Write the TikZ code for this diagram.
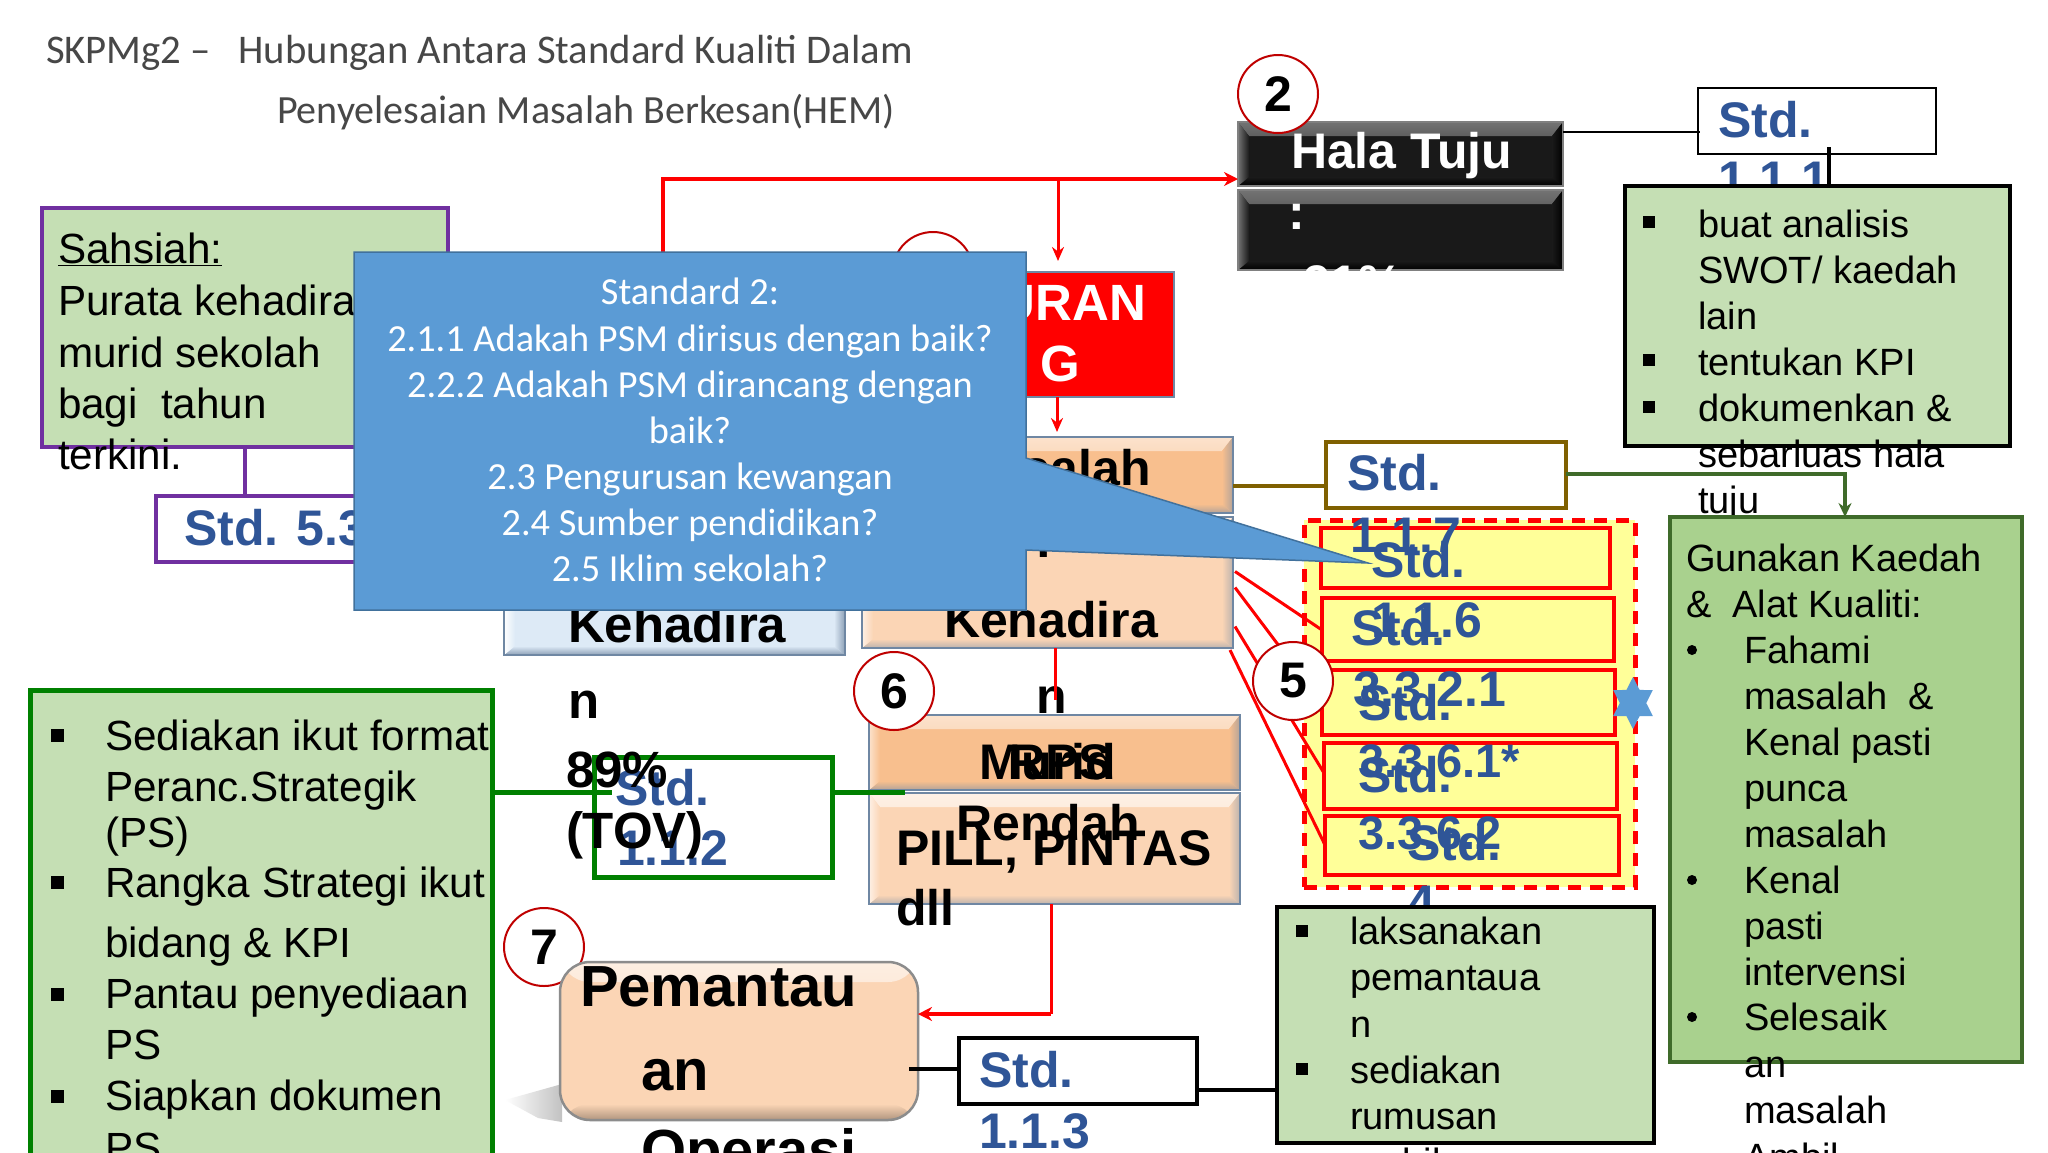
\documentclass[tikz,border=0pt]{standalone}
\usepackage{fontspec}
\setmainfont{Liberation Sans}
\newfontfamily\carlito{Carlito}
\usetikzlibrary{arrows.meta,calc,shapes.geometric}
\definecolor{palegreen}{HTML}{C5DFB4}
\definecolor{midgreen}{HTML}{A9D18E}
\definecolor{stdblue}{HTML}{2F5597}
\definecolor{darkgrn}{HTML}{008000}
\definecolor{olivegrn}{HTML}{3F6B2A}
\definecolor{brownline}{HTML}{7F6000}
\definecolor{purpleline}{HTML}{7030A0}
\definecolor{calloutblue}{HTML}{5B9BD5}
\definecolor{calloutedge}{HTML}{41719C}
\definecolor{yellowbg}{HTML}{FFFF99}
\definecolor{peach}{HTML}{FBD5B5}
\definecolor{orangebox}{HTML}{F8BF8E}
\definecolor{steel}{HTML}{6F87A3}
\definecolor{redline}{HTML}{FF0000}
\definecolor{palebluebox}{HTML}{DDEAF6}
\newcommand{\pbox}[6][]{%
  \pgfmathsetmacro\pw{#5-(#3)}\pgfmathsetmacro\ph{#6-(#4)}%
  \pgfmathsetmacro\pcx{(#3+#5)/2}\pgfmathsetmacro\pcy{(#4+#6)/2}%
  \node[rectangle,inner sep=0pt,outer sep=0pt,minimum width=\pw pt,minimum height=\ph pt,#1] (#2) at (\pcx,\pcy) {};}
\newcommand{\tx}[5][]{\node[anchor=base west,inner sep=0pt,outer sep=0pt,#1] (#2) at (#3,#4) {#5};}
\newcommand{\fs}[1]{\fontsize{#1}{#1}\selectfont}
\tikzset{
  x=1pt,y=-1pt,
  bevel/.style n args={4}{draw=#4,line width=2.5pt,fill=#1,path picture={
    \def\bb{path picture bounding box}
    \shade[top color=#2,bottom color=#1] (\bb.north west) -- (\bb.north east) -- ++(-11,14) -- ($(\bb.north west)+(11,14)$) -- cycle;
    \shade[top color=#1,bottom color=#3] ($(\bb.south west)+(11,-9)$) -- ($(\bb.south east)+(-11,-9)$) -- (\bb.south east) -- (\bb.south west) -- cycle;
    \shade[left color=#2,right color=#1] (\bb.north west) -- ++(11,14) -- ($(\bb.south west)+(11,-9)$) -- (\bb.south west) -- cycle;
    \shade[left color=#1,right color=#3] ($(\bb.north east)+(-11,14)$) -- (\bb.north east) -- (\bb.south east) -- ($(\bb.south east)+(-11,-9)$) -- cycle;
  }},
  orangeb/.style={bevel={orangebox}{orangebox!45!white}{orangebox!50!steel}{steel}},
  peachb/.style={bevel={peach}{peach!35!white}{peach!55!steel}{steel}},
  paleb/.style={bevel={palebluebox}{white}{steel!80!white}{steel}},
  blackb/.style={bevel={black!90}{black!55}{black!100}{black!50}},
  numcirc/.style={draw=red!75!black,line width=2pt,fill=white,ellipse,inner sep=0pt,outer sep=0pt,minimum width=80pt,minimum height=78pt,font=\bfseries\fs{50}},
  greenbox/.style={fill=palegreen,draw=black,line width=4pt},
  stdt/.style={text=stdblue,font=\bfseries\fs{50}},
  stdn/.style={text=stdblue,font=\bfseries\fs{47}},
  blk/.style={font=\bfseries\fs{50}},
  b38/.style={font=\fs{38}},
  b42/.style={font=\fs{42.2}},
  ct/.style={anchor=base,inner sep=0pt,text=white,font=\carlito\fs{38.3}},
  title/.style={text=black!72,font=\carlito\fs{40}},
  sqb/.style={fill=black,inner sep=0pt,outer sep=0pt,minimum width=12pt,minimum height=12pt},
  rdb/.style={fill=black,circle,inner sep=0pt,outer sep=0pt,minimum size=10pt},
  redthin/.style={draw=redline,line width=3pt},
  redarrow/.style={redthin,-{Stealth[length=14pt,width=12pt]}},
}
\begin{document}
\begin{tikzpicture}
\clip[use as bounding box] (0,0) rectangle (2048,1152);
\fill[white] (0,0) rectangle (2048,1152);

% title
\tx[title,font=\carlito\fs{40.7}]{t1}{46}{63}{SKPMg2 –\ \ \ Hubungan Antara Standard Kualiti Dalam}
\tx[title]{t2}{277}{123}{Penyelesaian Masalah Berkesan(HEM)}

% red top line
\coordinate (topL) at (663,300);
\coordinate (topC) at (663,179);
\coordinate (topB) at (1058,179);
\coordinate (d1) at (1058,261);

% Hala Tuju
\pbox[blackb]{halaA}{1238}{122}{1563}{186}
\pbox[blackb]{halaB}{1238}{190}{1563}{270}
\draw[draw=redline,line width=4pt,-{Stealth[length=14pt,width=14pt]}] (topL) -- (topC) -- (halaA.west |- topC);
\draw[redarrow] (topB) -- (d1);
\node[numcirc] (c2) at (1278,94) {2};
\tx[text=white,font=\bfseries\fs{50}]{halat}{1291}{168}{Hala Tuju}
\tx[text=white,font=\bfseries\fs{50}]{halac}{1288}{229}{:}
\tx[text=white,font=\bfseries\fs{50}]{halap}{1303}{300}{91\%}

% Std 1.1.1
\pbox[draw=black,line width=2.5pt,fill=white]{s111}{1698}{88}{1936}{154}
\coordinate (j1) at (1700,132);
\draw[black,line width=2.5pt] (halaA.east |- j1) -- (j1);
\tx[stdt]{s111a}{1718}{137}{Std.}
\tx[stdt]{s111b}{1718}{196}{1.1.1}
\coordinate (j2) at (1829,147);
\pbox[greenbox]{g1}{1625}{186}{2010}{446}
\draw[black,line width=4pt] (j2) -- (g1.north -| j2);
\foreach \nm/\yy/\str in {a/237/buat analisis,b/283/{SWOT/ kaedah},c/329/lain,d/375/tentukan KPI,e/421/dokumenkan \&,f/467/sebarluas hala,g/513/tuju}{
  \tx[b38]{g1\nm}{1698}{\yy}{\str}
}
\node[sqb] (g1q1) at (1649,222) {};
\node[sqb] (g1q2) at (1649,360) {};
\node[sqb] (g1q3) at (1649,407) {};

% Gunakan box
\pbox[fill=midgreen,draw=olivegrn,line width=4pt]{g2}{1670}{517}{2022}{1062}
\foreach \nm/\xx/\yy/\str in {a/1686/571/Gunakan Kaedah,b/1686/617/{\&\ \ Alat Kualiti:},c/1744/663/Fahami,d/1744/709/{masalah\ \ \&},e/1744/755/Kenal pasti,f/1744/801/punca,g/1744/847/masalah,h/1744/893/Kenal,i/1744/939/pasti,j/1744/985/intervensi,k/1744/1030/Selesaik,l/1744/1077/an,m/1744/1123/masalah,n/1744/1170/Ambil}{
  \tx[b38]{g2\nm}{\xx}{\yy}{\str}
}
\node[rdb] (g2r1) at (1692,650) {};
\node[rdb] (g2r2) at (1692,880) {};
\node[rdb] (g2r3) at (1692,1017) {};
\node[rdb] (g2r4) at (1692,1158) {};

% yellow group
\pbox[fill=yellowbg,draw=redline,line width=5pt,dash pattern=on 13pt off 9pt]{ygroup}{1304}{520}{1635}{887}
\pbox[draw=redline,line width=4pt]{in1}{1321}{528}{1610}{588}
\pbox[draw=redline,line width=4pt]{in2}{1322}{598}{1614}{661}
\pbox[draw=redline,line width=4pt]{in3}{1322}{670}{1615}{735}
\pbox[draw=redline,line width=4pt]{in4}{1324}{743}{1617}{809}
\pbox[draw=redline,line width=4pt]{in5}{1325}{816}{1619}{875}

% Masalah box
\pbox[orangeb]{masA}{862}{437}{1233}{513}
\pbox[peachb]{masB}{862}{517}{1233}{648}
\tx[blk,anchor=base]{masat}{1052}{485}{Masalah}
\tx[blk]{masac}{1035}{557}{:}
\tx[blk]{masad}{944}{637}{Kehadira}
\tx[blk]{masae}{1036}{713}{n}

% left pale box
\pbox[paleb]{kehB}{504}{540}{845}{655}
\tx[blk,font=\bfseries\fs{51}]{kehc}{568}{642}{Kehadira}

% red box
\pbox[fill=redline,draw=steel,line width=2pt]{redb}{900}{272}{1174}{397}
\tx[text=white,font=\bfseries\fs{51},anchor=base east]{reda}{1146}{320}{URAN}
\tx[text=white,font=\bfseries\fs{51}]{redg}{1040}{381}{G}
\node[numcirc] (c3) at (933,271) {3};
\draw[redarrow] (redb.south -| 1057,0) -- (1057,432);

% connectors from masalah to std boxes
\draw[redthin] ($(masB.east)+(2,-11)$) -- (in2.west |- 0,630);
\draw[redthin] ($(masB.east)+(2,5)$) -- (in3.west |- 0,703);
\draw[redthin] ($(masB.east)+(2,44)$) -- (in4.west |- 0,773);
\draw[redthin] ($(masB.south east)+(-3,2)$) -- (in5.west |- 0,845);
\draw[redthin] (masB.south -| 1055,0) -- (1055,700);

% Std 1.1.7
\pbox[draw=brownline,line width=4pt,fill=white]{s117}{1326}{442}{1566}{508}
\coordinate (j3) at (0,486);
\draw[brownline,line width=3.5pt] (masA.east |- j3) -- (s117.west |- j3);
\tx[stdt]{s117a}{1347}{490}{Std.}
\tx[stdt]{s117b}{1350}{552}{1.1.7}
\coordinate (j4) at (1845,474);
\draw[olivegrn,line width=3.5pt,-{Stealth[length=14pt,width=13pt]}] (s117.east |- j4) -- (j4) -- (g2.north -| j4);

\node[star,star points=6,star point ratio=1.73,xscale=0.88,fill=calloutblue,inner sep=0pt,minimum size=52pt] (star6) at (1633,703) {};

% overlapping labels inside the group
\tx[stdt]{a1}{1371}{577}{Std.}
\tx[stdt]{a2}{1371}{637}{1.1.6}
\tx[stdt]{b1}{1351}{645}{Std.}
\tx[stdt]{b2}{1353}{706}{3.3.2.1}
\tx[stdt]{c1}{1358}{720}{Std.}
\tx[stdn]{c2l}{1358}{777}{3.3.6.1*}
\tx[stdt]{d1l}{1358}{792}{Std.}
\tx[stdn]{d2l}{1358}{849}{3.3.6.2}
\tx[stdt]{e1l}{1407}{860}{Std.}
\tx[stdt]{e2l}{1407}{920}{4}
\node[numcirc] (c5) at (1293,681) {5};

% MRPS box
\pbox[orangeb]{mrA}{869}{715}{1240}{790}
\pbox[peachb]{mrB}{869}{793}{1240}{904}

% Std 1.1.2
\pbox[draw=darkgrn,line width=5pt]{s112}{594}{757}{832}{877}
\coordinate (j5) at (0,792);
\tx[stdt]{s112a}{615}{805}{Std.}
\tx[stdt]{s112b}{617}{865}{1.1.2}

% left green
\pbox[fill=palegreen,draw=darkgrn,line width=5pt]{g3}{30}{690}{492}{1190}
\draw[darkgrn,line width=5pt] (g3.east |- j5) -- (612,792);
\draw[darkgrn,line width=5pt] (s112.east |- j5) -- (905,792);
\foreach \nm/\yy/\str in {a/750/Sediakan ikut format,b/801/Peranc.Strategik,c/847/(PS),d/897/Rangka Strategi ikut,e/957/bidang \& KPI,f/1008/Pantau penyediaan,g/1059/PS,h/1110/Siapkan dokumen,i/1162/PS}{
  \tx[b42]{g3\nm}{105}{\yy}{\str}
}
\node[sqb,minimum size=13pt] (g3q1) at (57,735) {};
\node[sqb,minimum size=13pt] (g3q2) at (57,882) {};
\node[sqb,minimum size=13pt] (g3q3) at (57,994) {};
\node[sqb,minimum size=13pt] (g3q4) at (57,1096) {};

\tx[blk,anchor=base]{m1}{1048}{779}{Murid}
\tx[blk]{m2}{1009}{779}{RPS}
\tx[blk,anchor=base]{m3}{1048}{840}{Rendah}
\tx[blk]{p1}{896}{865}{PILL, PINTAS}
\tx[blk]{p2}{896}{925}{dll}
\node[numcirc] (c6) at (894,691) {6};

\tx[blk,font=\bfseries\fs{51}]{kehn}{568}{718}{n}
\tx[blk,font=\bfseries\fs{51}]{keh8}{566}{787}{89\%}
\tx[blk,font=\bfseries\fs{51}]{keht}{566}{848}{(TOV)}

% Pemantauan
\node[numcirc] (c7) at (544,947) {7};
\shade[left color=white,right color=black!24] (505,1100) -- (562,1084) -- (562,1122) -- (538,1118) -- cycle;
\node[rectangle,rounded corners=30pt,inner sep=0pt,outer sep=0pt,minimum width=358pt,minimum height=158pt,fill=peach,draw=black!45,line width=2.5pt,
  path picture={\def\bb{path picture bounding box}
    \shade[top color=peach!40!white,bottom color=peach] (\bb.north west) rectangle ($(\bb.north east)+(0,20)$);
    \shade[top color=peach,bottom color=peach!70!black] ($(\bb.south west)+(0,-16)$) rectangle (\bb.south east);}] (pem) at (739,1041) {};
\tx[font=\bfseries\fs{58}]{pa}{580}{1006}{Pemantau}
\tx[font=\bfseries\fs{58}]{pb}{641}{1090}{an}
\tx[font=\bfseries\fs{58}]{pc}{641}{1170}{Operasi}
\draw[redthin] (mrB.south -| 1051,0) -- (1051,1014);
\draw[draw=redline,line width=4pt,-{Stealth[length=14pt,width=14pt]}] (1051,1014) -- (pem.east |- 0,1014);

% Std 1.1.3
\pbox[draw=black,line width=3.5pt,fill=white]{s113}{959}{1038}{1197}{1104}
\coordinate (j6) at (0,1069);
\draw[black,line width=3.5pt] (909,1069) -- (s113.west |- j6);
\tx[stdt]{s113a}{979}{1087}{Std.}
\tx[stdt]{s113b}{979}{1148}{1.1.3}

% laksanakan box
\pbox[fill=palegreen,draw=black,line width=4pt]{g4}{1277}{907}{1654}{1143}
\coordinate (j7) at (0,1090);
\draw[black,line width=3.5pt] (s113.east |- j7) -- (g4.west |- j7);
\foreach \nm/\yy/\str in {a/944/laksanakan,b/990/pemantaua,c/1037/n,d/1083/sediakan,e/1129/rumusan,f/1175/ambil}{
  \tx[b38]{g4\nm}{1350}{\yy}{\str}
}
\node[sqb] (g4q1) at (1302,931) {};
\node[sqb] (g4q2) at (1302,1069) {};

% Sahsiah
\pbox[fill=palegreen,draw=purpleline,line width=4pt]{sah}{42}{208}{448}{447}
\pbox[draw=purpleline,line width=4pt,fill=white]{s53}{156}{496}{460}{562}
\draw[purpleline,line width=3.5pt] (sah.south -| 245,0) -- (s53.north -| 245,0);
\tx[stdt]{s53t}{184}{545}{Std. 5.3}
\tx[b42]{sa}{58}{263}{\underline{Sahsiah:}}
\tx[b42]{sb}{58}{315}{Purata kehadiran}
\tx[b42]{sc}{58}{367}{murid sekolah}
\tx[b42]{sd}{58}{418}{bagi\ \ tahun}
\tx[b42]{se}{58}{469}{terkini.}

% callout
\draw[fill=calloutblue,draw=calloutedge,line width=1.5pt] (354,252) -- (1026,252) -- (1026,458) -- (1368,563) -- (1026,550) -- (1026,610) -- (354,610) -- cycle;
\node[ct] (ca) at (690,304) {Standard 2:};
\node[ct] (cb) at (690,351) {2.1.1 Adakah PSM dirisus dengan baik?};
\node[ct] (cc) at (690,397) {2.2.2 Adakah PSM dirancang dengan};
\node[ct] (cd) at (690,443) {baik?};
\node[ct] (ce) at (690,489) {2.3 Pengurusan kewangan};
\node[ct] (cf) at (690,535) {2.4 Sumber pendidikan?};
\node[ct] (cg) at (690,581) {2.5 Iklim sekolah?};
\end{tikzpicture}
\end{document}
